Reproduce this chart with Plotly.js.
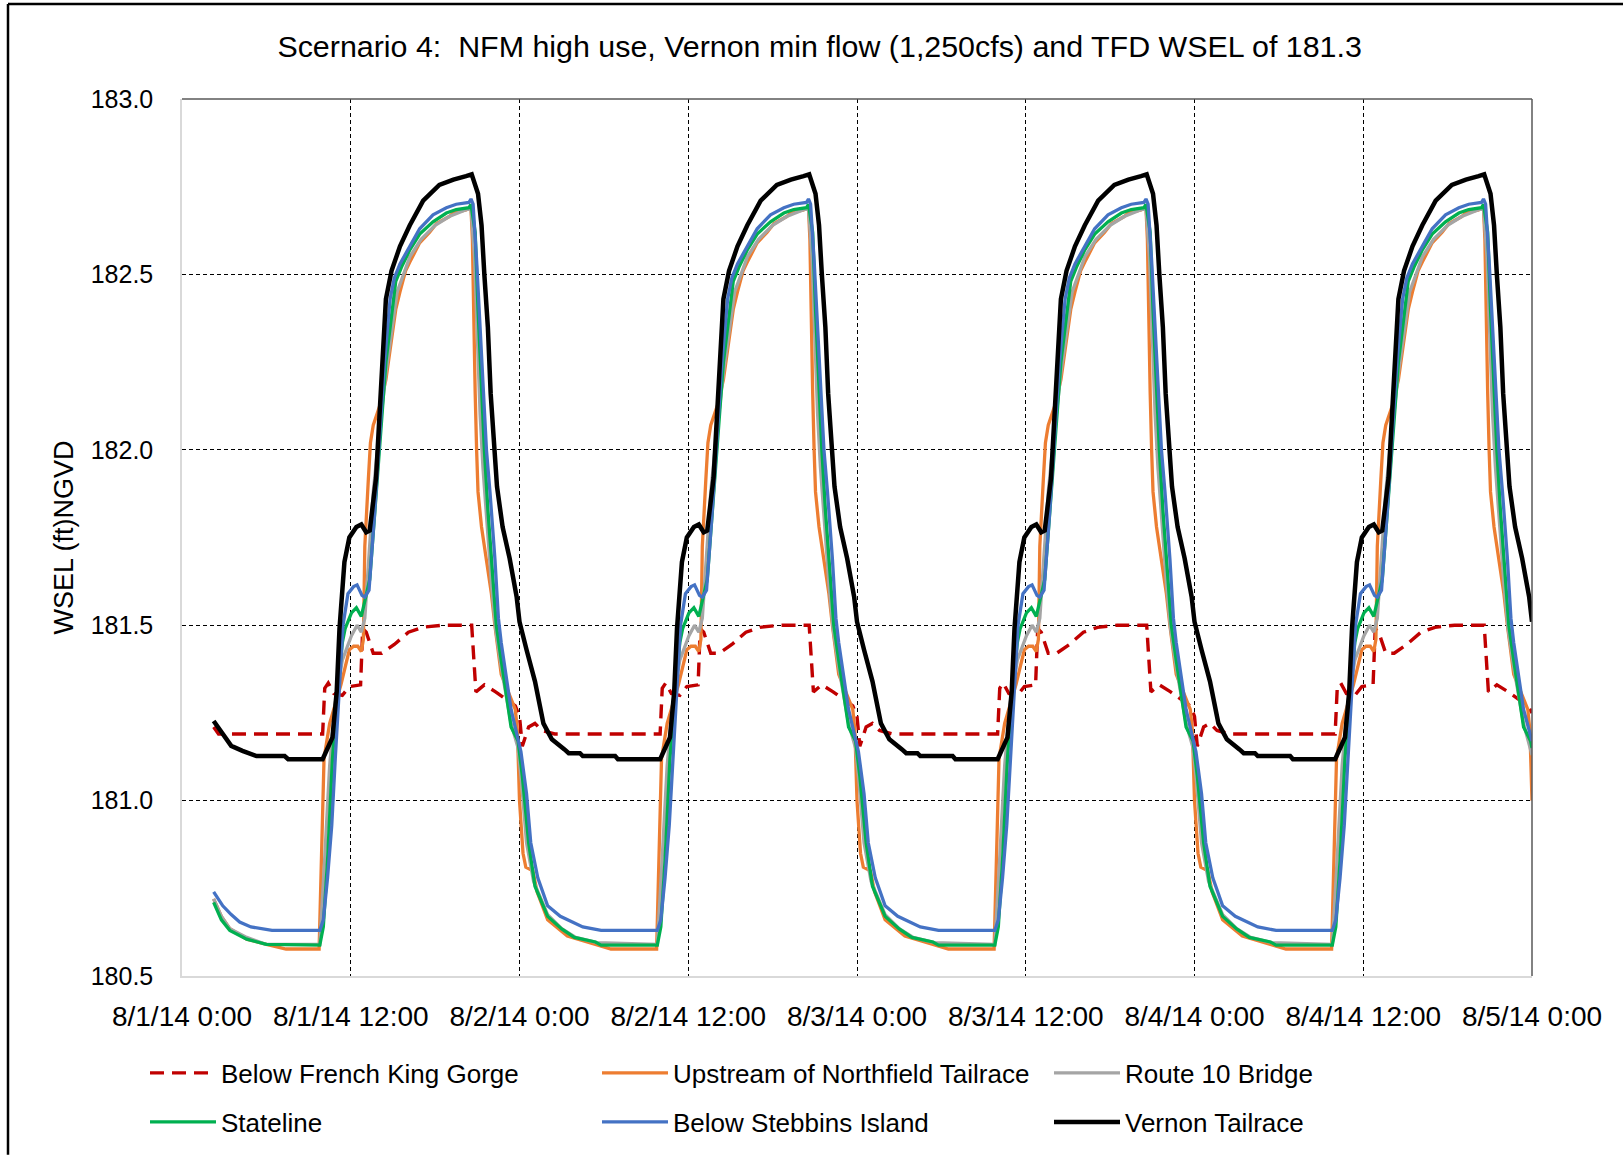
<!DOCTYPE html>
<html>
<head>
<meta charset="utf-8">
<script src="https://cdn.plot.ly/plotly-3.0.1.min.js"></script>
<style>
  html, body { margin: 0; padding: 0; background: #ffffff; }
  #chart { width: 1623px; height: 1156px; }
</style>
</head>
<body>
<div id="chart"></div>
<script>
// ---------------- DATA ----------------
// Times are hours after 8/1/14 0:00, values are WSEL (ft) NGVD.
const chartTitle = 'Scernario 4:\u00a0 NFM high use, Vernon min flow (1,250cfs) and TFD WSEL of 181.3';
const yAxisTitle = 'WSEL (ft)NGVD';
const seriesNames = ['Below French King Gorge', 'Upstream of Northfield Tailrace', 'Route 10 Bridge',
                     'Stateline', 'Below Stebbins Island', 'Vernon Tailrace'];
const xTickHours = [0, 12, 24, 36, 48, 60, 72, 84, 96];
const xTickLabels = ['8/1/14 0:00', '8/1/14 12:00', '8/2/14 0:00', '8/2/14 12:00', '8/3/14 0:00',
                     '8/3/14 12:00', '8/4/14 0:00', '8/4/14 12:00', '8/5/14 0:00'];
const yTickValues = [180.5, 181.0, 181.5, 182.0, 182.5, 183.0];

// Below French King Gorge
const redHours = [2.25, 2.6,
  10, 10.15, 10.4, 10.8, 11.4, 11.9, 12.7, 12.85, 13.1, 13.6, 14.2, 15.1, 16.1, 17.1, 18.5, 20.6, 20.9, 21.5, 22.3, 23, 23.7,
  24, 24.2, 24.65, 25.1, 25.6, 26.5,
  34, 34.15, 34.4, 34.8, 35.4, 35.9, 36.7, 36.85, 37.1, 37.6, 38.2, 39.1, 40.1, 41.1, 42.5, 44.6, 44.9, 45.5, 46.3, 47, 47.7,
  48, 48.2, 48.65, 49.1, 49.6, 50.5,
  58, 58.15, 58.4, 58.8, 59.4, 59.9, 60.7, 60.85, 61.1, 61.6, 62.2, 63.1, 64.1, 65.1, 66.5, 68.6, 68.9, 69.5, 70.3, 71, 71.7,
  72, 72.2, 72.65, 73.1, 73.6, 74.5,
  82, 82.15, 82.4, 82.8, 83.4, 83.9, 84.7, 84.85, 85.1, 85.6, 86.2, 87.1, 88.1, 89.1, 90.5, 92.6, 92.9, 93.5, 94.3, 95, 95.7,
  96];
const redValues = [181.21, 181.19,
  181.19, 181.32, 181.335, 181.305, 181.30, 181.325, 181.33, 181.49, 181.48, 181.42, 181.42, 181.445, 181.48, 181.494, 181.50, 181.50, 181.31, 181.33, 181.31, 181.29, 181.27,
  181.24, 181.155, 181.21, 181.22, 181.20, 181.19,
  181.19, 181.32, 181.335, 181.305, 181.30, 181.325, 181.33, 181.49, 181.48, 181.42, 181.42, 181.445, 181.48, 181.494, 181.50, 181.50, 181.31, 181.33, 181.31, 181.29, 181.27,
  181.24, 181.155, 181.21, 181.22, 181.20, 181.19,
  181.19, 181.32, 181.335, 181.305, 181.30, 181.325, 181.33, 181.49, 181.48, 181.42, 181.42, 181.445, 181.48, 181.494, 181.50, 181.50, 181.31, 181.33, 181.31, 181.29, 181.27,
  181.24, 181.155, 181.21, 181.22, 181.20, 181.19,
  181.19, 181.32, 181.335, 181.305, 181.30, 181.325, 181.33, 181.49, 181.48, 181.42, 181.42, 181.445, 181.48, 181.494, 181.50, 181.50, 181.31, 181.33, 181.31, 181.29, 181.27,
  181.25];

// Upstream of Northfield Tailrace
const orangeHours = [2.25, 2.8, 3.4, 4.6, 6, 7.4,
  9.75, 9.9, 10.1, 10.5, 11.3, 11.9, 12.2, 12.5, 12.75, 12.9, 13, 13.25, 13.4, 13.6, 14.1, 14.5, 14.8, 15.2, 15.5, 15.9, 16.2, 16.9, 17.6, 18.1, 19, 19.3, 20.2, 20.55, 20.65, 20.75, 20.85, 20.95, 21.05, 21.3, 21.65, 22, 22.25, 22.7, 23.2, 23.7, 23.85,
  24, 24.25, 24.45, 24.95, 25.25, 26, 27.4, 29.4, 30.5,
  33.75, 33.9, 34.1, 34.5, 35.3, 35.9, 36.2, 36.5, 36.75, 36.9, 37, 37.25, 37.4, 37.6, 38.1, 38.5, 38.8, 39.2, 39.5, 39.9, 40.2, 40.9, 41.6, 42.1, 43, 43.3, 44.2, 44.55, 44.65, 44.75, 44.85, 44.95, 45.05, 45.3, 45.65, 46, 46.25, 46.7, 47.2, 47.7, 47.85,
  48, 48.25, 48.45, 48.95, 49.25, 50, 51.4, 53.4, 54.5,
  57.75, 57.9, 58.1, 58.5, 59.3, 59.9, 60.2, 60.5, 60.75, 60.9, 61, 61.25, 61.4, 61.6, 62.1, 62.5, 62.8, 63.2, 63.5, 63.9, 64.2, 64.9, 65.6, 66.1, 67, 67.3, 68.2, 68.55, 68.65, 68.75, 68.85, 68.95, 69.05, 69.3, 69.65, 70, 70.25, 70.7, 71.2, 71.7, 71.85,
  72, 72.25, 72.45, 72.95, 73.25, 74, 75.4, 77.4, 78.5,
  81.75, 81.9, 82.1, 82.5, 83.3, 83.9, 84.2, 84.5, 84.75, 84.9, 85, 85.25, 85.4, 85.6, 86.1, 86.5, 86.8, 87.2, 87.5, 87.9, 88.2, 88.9, 89.6, 90.1, 91, 91.3, 92.2, 92.55, 92.65, 92.75, 92.85, 92.95, 93.05, 93.3, 93.65, 94, 94.25, 94.7, 95.2, 95.7, 95.85,
  96];
const orangeValues = [180.72, 180.67, 180.635, 180.605, 180.59, 180.577,
  180.577, 180.80, 181.12, 181.22, 181.33, 181.43, 181.44, 181.44, 181.425, 181.46, 181.725, 181.915, 182.02, 182.07, 182.13, 182.20, 182.29, 182.40, 182.45, 182.51, 182.535, 182.59, 182.62, 182.645, 182.665, 182.675, 182.684, 182.69, 182.60, 182.35, 182.16, 182.00, 181.88, 181.78, 181.69, 181.59, 181.50, 181.36, 181.31, 181.26, 181.20,
  181.00, 180.85, 180.81, 180.80, 180.74, 180.66, 180.614, 180.59, 180.577,
  180.577, 180.80, 181.12, 181.22, 181.33, 181.43, 181.44, 181.44, 181.425, 181.46, 181.725, 181.915, 182.02, 182.07, 182.13, 182.20, 182.29, 182.40, 182.45, 182.51, 182.535, 182.59, 182.62, 182.645, 182.665, 182.675, 182.684, 182.69, 182.60, 182.35, 182.16, 182.00, 181.88, 181.78, 181.69, 181.59, 181.50, 181.36, 181.31, 181.26, 181.20,
  181.00, 180.85, 180.81, 180.80, 180.74, 180.66, 180.614, 180.59, 180.577,
  180.577, 180.80, 181.12, 181.22, 181.33, 181.43, 181.44, 181.44, 181.425, 181.46, 181.725, 181.915, 182.02, 182.07, 182.13, 182.20, 182.29, 182.40, 182.45, 182.51, 182.535, 182.59, 182.62, 182.645, 182.665, 182.675, 182.684, 182.69, 182.60, 182.35, 182.16, 182.00, 181.88, 181.78, 181.69, 181.59, 181.50, 181.36, 181.31, 181.26, 181.20,
  181.00, 180.85, 180.81, 180.80, 180.74, 180.66, 180.614, 180.59, 180.577,
  180.577, 180.80, 181.12, 181.22, 181.33, 181.43, 181.44, 181.44, 181.425, 181.46, 181.725, 181.915, 182.02, 182.07, 182.13, 182.20, 182.29, 182.40, 182.45, 182.51, 182.535, 182.59, 182.62, 182.645, 182.665, 182.675, 182.684, 182.69, 182.60, 182.35, 182.16, 182.00, 181.88, 181.78, 181.69, 181.59, 181.50, 181.36, 181.31, 181.26, 181.20,
  181.00];

// Route 10 Bridge
const grayHours = [2.25, 2.8, 3.4, 4.6, 6,
  9.8, 10.1, 10.5, 10.9, 11.4, 12.05, 12.45, 12.75, 13, 13.3, 13.6, 13.9, 14.5, 15.3, 16.2, 17, 18, 19, 20, 20.55, 20.8, 21, 21.2, 21.4, 21.7, 22, 22.3, 22.7, 23.4, 23.9,
  24.15, 24.5, 25, 26, 27, 28, 29.5,
  33.8, 34.1, 34.5, 34.9, 35.4, 36.05, 36.45, 36.75, 37, 37.3, 37.6, 37.9, 38.5, 39.3, 40.2, 41, 42, 43, 44, 44.55, 44.8, 45, 45.2, 45.4, 45.7, 46, 46.3, 46.7, 47.4, 47.9,
  48.15, 48.5, 49, 50, 51, 52, 53.5,
  57.8, 58.1, 58.5, 58.9, 59.4, 60.05, 60.45, 60.75, 61, 61.3, 61.6, 61.9, 62.5, 63.3, 64.2, 65, 66, 67, 68, 68.55, 68.8, 69, 69.2, 69.4, 69.7, 70, 70.3, 70.7, 71.4, 71.9,
  72.15, 72.5, 73, 74, 75, 76, 77.5,
  81.8, 82.1, 82.5, 82.9, 83.4, 84.05, 84.45, 84.75, 85, 85.3, 85.6, 85.9, 86.5, 87.3, 88.2, 89, 90, 91, 92, 92.55, 92.8, 93, 93.2, 93.4, 93.7, 94, 94.3, 94.7, 95.4, 95.9,
  96];
const grayValues = [180.72, 180.67, 180.635, 180.61, 180.59,
  180.59, 180.80, 181.10, 181.28, 181.40, 181.47, 181.50, 181.48, 181.52, 181.70, 181.88, 182.00, 182.22, 182.45, 182.55, 182.60, 182.64, 182.665, 182.68, 182.69, 182.55, 182.30, 182.10, 181.95, 181.78, 181.62, 181.49, 181.38, 181.22, 181.15,
  181.05, 180.88, 180.77, 180.675, 180.635, 180.61, 180.595,
  180.59, 180.80, 181.10, 181.28, 181.40, 181.47, 181.50, 181.48, 181.52, 181.70, 181.88, 182.00, 182.22, 182.45, 182.55, 182.60, 182.64, 182.665, 182.68, 182.69, 182.55, 182.30, 182.10, 181.95, 181.78, 181.62, 181.49, 181.38, 181.22, 181.15,
  181.05, 180.88, 180.77, 180.675, 180.635, 180.61, 180.595,
  180.59, 180.80, 181.10, 181.28, 181.40, 181.47, 181.50, 181.48, 181.52, 181.70, 181.88, 182.00, 182.22, 182.45, 182.55, 182.60, 182.64, 182.665, 182.68, 182.69, 182.55, 182.30, 182.10, 181.95, 181.78, 181.62, 181.49, 181.38, 181.22, 181.15,
  181.05, 180.88, 180.77, 180.675, 180.635, 180.61, 180.595,
  180.59, 180.80, 181.10, 181.28, 181.40, 181.47, 181.50, 181.48, 181.52, 181.70, 181.88, 182.00, 182.22, 182.45, 182.55, 182.60, 182.64, 182.665, 182.68, 182.69, 182.55, 182.30, 182.10, 181.95, 181.78, 181.62, 181.49, 181.38, 181.22, 181.15,
  181.13];

// Stateline
const greenHours = [2.25, 2.8, 3.4, 4.6, 6,
  9.8, 10.05, 10.35, 10.7, 11.05, 11.4, 11.6, 12.05, 12.4, 12.75, 13, 13.35, 13.8, 14.05, 14.5, 15.2, 15.6, 16.2, 16.9, 17.85, 18.8, 19.5, 20.4, 20.55, 20.85, 21.05, 21.3, 21.5, 21.75, 22.1, 22.35, 22.7, 23.4, 23.9,
  24.2, 24.65, 25.1, 26, 27, 27.9, 29.4, 29.8,
  33.8, 34.05, 34.35, 34.7, 35.05, 35.4, 35.6, 36.05, 36.4, 36.75, 37, 37.35, 37.8, 38.05, 38.5, 39.2, 39.6, 40.2, 40.9, 41.85, 42.8, 43.5, 44.4, 44.55, 44.85, 45.05, 45.3, 45.5, 45.75, 46.1, 46.35, 46.7, 47.4, 47.9,
  48.2, 48.65, 49.1, 50, 51, 51.9, 53.4, 53.8,
  57.8, 58.05, 58.35, 58.7, 59.05, 59.4, 59.6, 60.05, 60.4, 60.75, 61, 61.35, 61.8, 62.05, 62.5, 63.2, 63.6, 64.2, 64.9, 65.85, 66.8, 67.5, 68.4, 68.55, 68.85, 69.05, 69.3, 69.5, 69.75, 70.1, 70.35, 70.7, 71.4, 71.9,
  72.2, 72.65, 73.1, 74, 75, 75.9, 77.4, 77.8,
  81.8, 82.05, 82.35, 82.7, 83.05, 83.4, 83.6, 84.05, 84.4, 84.75, 85, 85.35, 85.8, 86.05, 86.5, 87.2, 87.6, 88.2, 88.9, 89.85, 90.8, 91.5, 92.4, 92.55, 92.85, 93.05, 93.3, 93.5, 93.75, 94.1, 94.35, 94.7, 95.4, 95.9,
  96];
const greenValues = [180.71, 180.66, 180.63, 180.605, 180.59,
  180.588, 180.64, 180.83, 181.12, 181.31, 181.45, 181.49, 181.535, 181.55, 181.525, 181.565, 181.63, 181.87, 182.00, 182.25, 182.48, 182.52, 182.57, 182.615, 182.65, 182.675, 182.685, 182.69, 182.70, 182.62, 182.40, 182.16, 182.00, 181.83, 181.64, 181.50, 181.40, 181.21, 181.17,
  181.07, 180.88, 180.756, 180.67, 180.634, 180.61, 180.597, 180.588,
  180.588, 180.64, 180.83, 181.12, 181.31, 181.45, 181.49, 181.535, 181.55, 181.525, 181.565, 181.63, 181.87, 182.00, 182.25, 182.48, 182.52, 182.57, 182.615, 182.65, 182.675, 182.685, 182.69, 182.70, 182.62, 182.40, 182.16, 182.00, 181.83, 181.64, 181.50, 181.40, 181.21, 181.17,
  181.07, 180.88, 180.756, 180.67, 180.634, 180.61, 180.597, 180.588,
  180.588, 180.64, 180.83, 181.12, 181.31, 181.45, 181.49, 181.535, 181.55, 181.525, 181.565, 181.63, 181.87, 182.00, 182.25, 182.48, 182.52, 182.57, 182.615, 182.65, 182.675, 182.685, 182.69, 182.70, 182.62, 182.40, 182.16, 182.00, 181.83, 181.64, 181.50, 181.40, 181.21, 181.17,
  181.07, 180.88, 180.756, 180.67, 180.634, 180.61, 180.597, 180.588,
  180.588, 180.64, 180.83, 181.12, 181.31, 181.45, 181.49, 181.535, 181.55, 181.525, 181.565, 181.63, 181.87, 182.00, 182.25, 182.48, 182.52, 182.57, 182.615, 182.65, 182.675, 182.685, 182.69, 182.70, 182.62, 182.40, 182.16, 182.00, 181.83, 181.64, 181.50, 181.40, 181.21, 181.17,
  181.15];

// Below Stebbins Island
const blueHours = [2.25, 2.9, 3.5, 4.1, 4.9, 6.4,
  9.8, 10.05, 10.35, 10.65, 10.9, 11.15, 11.45, 11.8, 12.2, 12.45, 12.8, 13, 13.3, 13.7, 14, 14.4, 14.8, 15.1, 15.5, 16.2, 16.9, 17.85, 18.8, 19.5, 20.4, 20.55, 20.7, 20.95, 21.2, 21.4, 21.65, 21.9, 22.25, 22.5, 22.7, 23.4,
  24.1, 24.5, 24.8, 25.3, 26, 26.9, 27.7, 28.5, 29.8,
  33.8, 34.05, 34.35, 34.65, 34.9, 35.15, 35.45, 35.8, 36.2, 36.45, 36.8, 37, 37.3, 37.7, 38, 38.4, 38.8, 39.1, 39.5, 40.2, 40.9, 41.85, 42.8, 43.5, 44.4, 44.55, 44.7, 44.95, 45.2, 45.4, 45.65, 45.9, 46.25, 46.5, 46.7, 47.4,
  48.1, 48.5, 48.8, 49.3, 50, 50.9, 51.7, 52.5, 53.8,
  57.8, 58.05, 58.35, 58.65, 58.9, 59.15, 59.45, 59.8, 60.2, 60.45, 60.8, 61, 61.3, 61.7, 62, 62.4, 62.8, 63.1, 63.5, 64.2, 64.9, 65.85, 66.8, 67.5, 68.4, 68.55, 68.7, 68.95, 69.2, 69.4, 69.65, 69.9, 70.25, 70.5, 70.7, 71.4,
  72.1, 72.5, 72.8, 73.3, 74, 74.9, 75.7, 76.5, 77.8,
  81.8, 82.05, 82.35, 82.65, 82.9, 83.15, 83.45, 83.8, 84.2, 84.45, 84.8, 85, 85.3, 85.7, 86, 86.4, 86.8, 87.1, 87.5, 88.2, 88.9, 89.85, 90.8, 91.5, 92.4, 92.55, 92.7, 92.95, 93.2, 93.4, 93.65, 93.9, 94.25, 94.5, 94.7, 95.4,
  96];
const blueValues = [180.74, 180.70, 180.675, 180.654, 180.64, 180.63,
  180.63, 180.66, 180.78, 180.93, 181.12, 181.28, 181.50, 181.59, 181.61, 181.615, 181.585, 181.58, 181.60, 181.82, 182.00, 182.25, 182.43, 182.49, 182.53, 182.58, 182.63, 182.67, 182.69, 182.70, 182.705, 182.715, 182.70, 182.54, 182.35, 182.16, 182.00, 181.88, 181.69, 181.52, 181.45, 181.26,
  181.14, 181.02, 180.88, 180.78, 180.70, 180.67, 180.654, 180.64, 180.63,
  180.63, 180.66, 180.78, 180.93, 181.12, 181.28, 181.50, 181.59, 181.61, 181.615, 181.585, 181.58, 181.60, 181.82, 182.00, 182.25, 182.43, 182.49, 182.53, 182.58, 182.63, 182.67, 182.69, 182.70, 182.705, 182.715, 182.70, 182.54, 182.35, 182.16, 182.00, 181.88, 181.69, 181.52, 181.45, 181.26,
  181.14, 181.02, 180.88, 180.78, 180.70, 180.67, 180.654, 180.64, 180.63,
  180.63, 180.66, 180.78, 180.93, 181.12, 181.28, 181.50, 181.59, 181.61, 181.615, 181.585, 181.58, 181.60, 181.82, 182.00, 182.25, 182.43, 182.49, 182.53, 182.58, 182.63, 182.67, 182.69, 182.70, 182.705, 182.715, 182.70, 182.54, 182.35, 182.16, 182.00, 181.88, 181.69, 181.52, 181.45, 181.26,
  181.14, 181.02, 180.88, 180.78, 180.70, 180.67, 180.654, 180.64, 180.63,
  180.63, 180.66, 180.78, 180.93, 181.12, 181.28, 181.50, 181.59, 181.61, 181.615, 181.585, 181.58, 181.60, 181.82, 182.00, 182.25, 182.43, 182.49, 182.53, 182.58, 182.63, 182.67, 182.69, 182.70, 182.705, 182.715, 182.70, 182.54, 182.35, 182.16, 182.00, 181.88, 181.69, 181.52, 181.45, 181.26,
  181.17];

// Vernon Tailrace
const blackHours = [2.25, 2.8, 3.5, 4.3, 5.05, 5.3, 7.3, 7.55,
  10, 10.4, 10.7, 11, 11.2, 11.55, 11.9, 12.4, 12.75, 13.1, 13.35, 13.8, 14.1, 14.5, 14.9, 15.5, 16.2, 17.15, 18.3, 19.3, 20.2, 20.6, 21.05, 21.3, 21.5, 21.75, 21.95, 22.2, 22.4, 22.8, 23.3, 23.8,
  24, 24.5, 25.1, 25.7, 26.3, 27.2, 27.5, 28.3, 28.5, 30.8, 31,
  34, 34.4, 34.7, 35, 35.2, 35.55, 35.9, 36.4, 36.75, 37.1, 37.35, 37.8, 38.1, 38.5, 38.9, 39.5, 40.2, 41.15, 42.3, 43.3, 44.2, 44.6, 45.05, 45.3, 45.5, 45.75, 45.95, 46.2, 46.4, 46.8, 47.3, 47.8,
  48, 48.5, 49.1, 49.7, 50.3, 51.2, 51.5, 52.3, 52.5, 54.8, 55,
  58, 58.4, 58.7, 59, 59.2, 59.55, 59.9, 60.4, 60.75, 61.1, 61.35, 61.8, 62.1, 62.5, 62.9, 63.5, 64.2, 65.15, 66.3, 67.3, 68.2, 68.6, 69.05, 69.3, 69.5, 69.75, 69.95, 70.2, 70.4, 70.8, 71.3, 71.8,
  72, 72.5, 73.1, 73.7, 74.3, 75.2, 75.5, 76.3, 76.5, 78.8, 79,
  82, 82.4, 82.7, 83, 83.2, 83.55, 83.9, 84.4, 84.75, 85.1, 85.35, 85.8, 86.1, 86.5, 86.9, 87.5, 88.2, 89.15, 90.3, 91.3, 92.2, 92.6, 93.05, 93.3, 93.5, 93.75, 93.95, 94.2, 94.4, 94.8, 95.3, 95.8,
  96];
const blackValues = [181.227, 181.195, 181.156, 181.142, 181.132, 181.127, 181.127, 181.118,
  181.118, 181.15, 181.18, 181.31, 181.49, 181.68, 181.75, 181.78, 181.787, 181.765, 181.77, 181.92, 182.14, 182.43, 182.51, 182.58, 182.64, 182.71, 182.755, 182.77, 182.78, 182.785, 182.73, 182.64, 182.50, 182.35, 182.16, 182.00, 181.895, 181.78, 181.69, 181.58,
  181.51, 181.43, 181.34, 181.22, 181.175, 181.146, 181.135, 181.135, 181.127, 181.127, 181.118,
  181.118, 181.15, 181.18, 181.31, 181.49, 181.68, 181.75, 181.78, 181.787, 181.765, 181.77, 181.92, 182.14, 182.43, 182.51, 182.58, 182.64, 182.71, 182.755, 182.77, 182.78, 182.785, 182.73, 182.64, 182.50, 182.35, 182.16, 182.00, 181.895, 181.78, 181.69, 181.58,
  181.51, 181.43, 181.34, 181.22, 181.175, 181.146, 181.135, 181.135, 181.127, 181.127, 181.118,
  181.118, 181.15, 181.18, 181.31, 181.49, 181.68, 181.75, 181.78, 181.787, 181.765, 181.77, 181.92, 182.14, 182.43, 182.51, 182.58, 182.64, 182.71, 182.755, 182.77, 182.78, 182.785, 182.73, 182.64, 182.50, 182.35, 182.16, 182.00, 181.895, 181.78, 181.69, 181.58,
  181.51, 181.43, 181.34, 181.22, 181.175, 181.146, 181.135, 181.135, 181.127, 181.127, 181.118,
  181.118, 181.15, 181.18, 181.31, 181.49, 181.68, 181.75, 181.78, 181.787, 181.765, 181.77, 181.92, 182.14, 182.43, 182.51, 182.58, 182.64, 182.71, 182.755, 182.77, 182.78, 182.785, 182.73, 182.64, 182.50, 182.35, 182.16, 182.00, 181.895, 181.78, 181.69, 181.58,
  181.51];

// ---------------- helpers ----------------
function pad(n) { return (n < 10 ? '0' : '') + n; }
function hourToDate(h) {
  const d = new Date(Date.UTC(2014, 7, 1) + Math.round(h * 60) * 60000);
  return d.getUTCFullYear() + '-' + pad(d.getUTCMonth() + 1) + '-' + pad(d.getUTCDate()) + ' ' +
         pad(d.getUTCHours()) + ':' + pad(d.getUTCMinutes());
}

const FONT = 'Liberation Sans, Arial, sans-serif';

function series(name, hours, values, color, width, dash, legendId) {
  return {
    type: 'scatter', mode: 'lines', name: name,
    x: hours.map(hourToDate), y: values,
    line: { color: color, width: width, dash: dash },
    legend: legendId, hoverinfo: 'x+y+name'
  };
}

const traces = [
  series(seriesNames[0], redHours, redValues, '#C00000', 3.4, '14px,8px', 'legend'),
  series(seriesNames[1], orangeHours, orangeValues, '#ED7D31', 3.3, 'solid', 'legend'),
  series(seriesNames[2], grayHours, grayValues, '#A5A5A5', 3.3, 'solid', 'legend'),
  series(seriesNames[3], greenHours, greenValues, '#00B050', 3.3, 'solid', 'legend2'),
  series(seriesNames[4], blueHours, blueValues, '#4472C4', 3.3, 'solid', 'legend2'),
  series(seriesNames[5], blackHours, blackValues, '#000000', 4.5, 'solid', 'legend2')
];

const plotL = 182, plotR = 1532, plotT = 99, plotB = 977;
const plotW = plotR - plotL, plotH = plotB - plotT;
function px2paperX(px) { return (px - plotL) / plotW; }
function px2paperY(py) { return (plotB - py) / plotH; }

const legendCommon = {
  orientation: 'h', xanchor: 'left', yanchor: 'middle',
  x: px2paperX(145), font: { family: FONT, size: 26, color: '#000' },
  bgcolor: 'rgba(0,0,0,0)', borderwidth: 0,
  itemwidth: 66, entrywidth: 371, entrywidthmode: 'pixels',
  traceorder: 'normal', itemclick: false, itemdoubleclick: false
};

const layout = {
  width: 1623, height: 1156,
  margin: { l: plotL, r: 1623 - plotR, t: plotT, b: 1156 - plotB },
  paper_bgcolor: '#ffffff', plot_bgcolor: '#ffffff',
  font: { family: FONT, color: '#000000' },
  showlegend: true,
  title: {
    text: chartTitle, font: { family: FONT, size: 30.4, color: '#000000' },
    xref: 'container', yref: 'container', x: 0.505, y: 1 - 46 / 1156,
    xanchor: 'center', yanchor: 'middle'
  },
  xaxis: {
    type: 'date',
    range: [hourToDate(0), hourToDate(96)],
    tickmode: 'array', tickvals: xTickHours.map(hourToDate), ticktext: xTickLabels,
    tickfont: { family: FONT, size: 28, color: '#000' },
    ticks: '', ticklabelstandoff: 15,
    showgrid: true, gridcolor: '#000000', gridwidth: 1, griddash: '4px,3px',
    showline: true, linecolor: '#D9D9D9', linewidth: 1.5,
    zeroline: false, fixedrange: true
  },
  yaxis: {
    range: [180.5, 183.0],
    tickmode: 'array', tickvals: yTickValues, ticktext: yTickValues.map(v => v.toFixed(1)),
    tickfont: { family: FONT, size: 25, color: '#000' },
    ticks: '', ticklabelstandoff: 22,
    showgrid: true, gridcolor: '#000000', gridwidth: 1, griddash: '4px,3px',
    showline: true, linecolor: '#D9D9D9', linewidth: 1.5,
    zeroline: false, fixedrange: true,
    title: { text: yAxisTitle, font: { family: FONT, size: 27, color: '#000' }, standoff: 9 }
  },
  legend: Object.assign({}, legendCommon, { y: px2paperY(1073) }),
  legend2: Object.assign({}, legendCommon, { y: px2paperY(1122) }),
  shapes: [
    // plot-area top and right frame (solid)
    { type: 'line', xref: 'paper', yref: 'paper', x0: 0, x1: 1, y0: 1, y1: 1,
      line: { color: '#595959', width: 1.5 }, layer: 'above' },
    { type: 'line', xref: 'paper', yref: 'paper', x0: 1, x1: 1, y0: 0, y1: 1,
      line: { color: '#595959', width: 1.5 }, layer: 'above' },
    // chart-area border (top and left edges visible in the reference)
    { type: 'line', xref: 'paper', yref: 'paper', x0: px2paperX(8), x1: px2paperX(1623), y0: px2paperY(4), y1: px2paperY(4),
      line: { color: '#000000', width: 2.5 }, layer: 'above' },
    { type: 'line', xref: 'paper', yref: 'paper', x0: px2paperX(8), x1: px2paperX(8), y0: px2paperY(4), y1: px2paperY(1156),
      line: { color: '#000000', width: 2.5 }, layer: 'above' }
  ]
};

Plotly.newPlot('chart', traces, layout, { displayModeBar: false, staticPlot: false, responsive: false });
</script>
</body>
</html>
